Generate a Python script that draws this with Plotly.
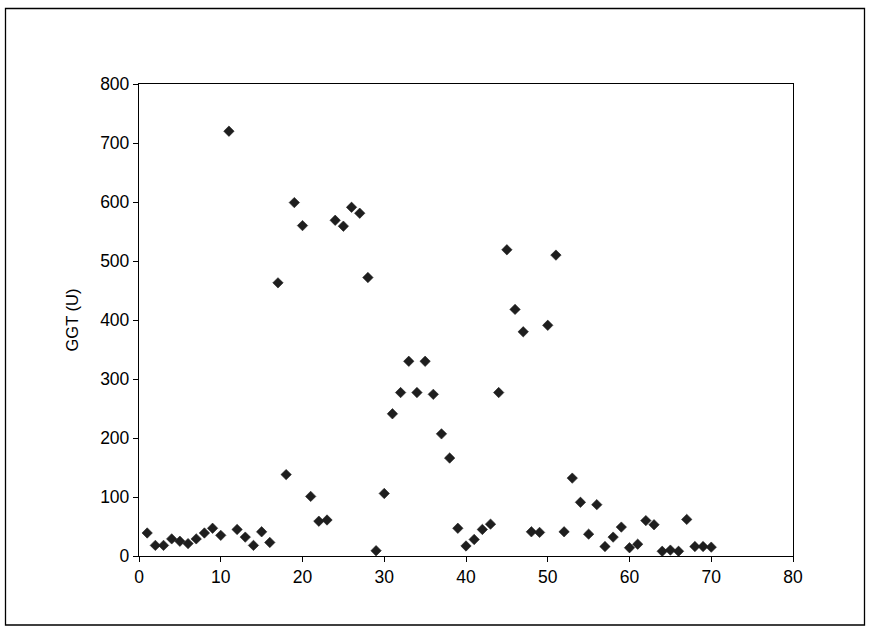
import plotly.graph_objects as go

x_vals = list(range(1, 71))
ggt = [39, 18, 18, 29, 25, 21, 29, 39, 47, 35,
       720, 45, 32, 18, 41, 23, 463, 138, 599, 560,
       101, 59, 61, 569, 559, 591, 581, 472, 9, 106,
       241, 277, 330, 277, 330, 274, 207, 166, 47, 17,
       28, 45, 54, 277, 519, 418, 380, 41, 40, 391,
       510, 41, 132, 91, 37, 87, 16, 32, 49, 14,
       20, 60, 53, 8, 10, 8, 62, 16, 16, 15]

x_ticks = [0, 10, 20, 30, 40, 50, 60, 70, 80]
y_ticks = [0, 100, 200, 300, 400, 500, 600, 700, 800]

fig = go.Figure()
fig.add_trace(go.Scatter(
    x=x_vals, y=ggt, mode="markers",
    marker=dict(symbol="diamond", size=8, color="#1e1e1e",
                line=dict(width=0.6, color="#1e1e1e")),
    cliponaxis=False, showlegend=False,
))

W, H = 872, 633
L, R, T, B = 139, 793, 84, 556
pw, ph = R - L, B - T

def px2x(px):
    return (px - L) / pw

def px2y(py):
    return (B - py) / ph

fig.add_shape(type="rect", xref="paper", yref="paper",
              x0=px2x(5.5), x1=px2x(864.5), y0=px2y(625), y1=px2y(8.5),
              line=dict(color="black", width=1.3), fillcolor="rgba(0,0,0,0)", layer="below")

font_family = "Liberation Sans, Arial, sans-serif"
fig.update_layout(
    width=W, height=H,
    margin=dict(l=L, r=W - R, t=T, b=H - B, autoexpand=False),
    paper_bgcolor="white", plot_bgcolor="white",
    font=dict(family=font_family, size=17, color="black"),
    xaxis=dict(range=[0, 80], tickvals=x_ticks, ticktext=[str(v) for v in x_ticks],
               showgrid=False, zeroline=False, showline=True, linecolor="black",
               linewidth=1.3, mirror=True, ticks="outside", ticklen=5,
               tickcolor="black", tickwidth=1.3, tickfont=dict(size=17.5)),
    yaxis=dict(range=[0, 800], tickvals=y_ticks, ticktext=[str(v) for v in y_ticks],
               showgrid=False, zeroline=False, showline=True, linecolor="black",
               linewidth=1.3, mirror=True, ticks="outside", ticklen=5,
               tickcolor="black", tickwidth=1.3, tickfont=dict(size=17.5),
               title=dict(text="GGT (U)", font=dict(size=16.5), standoff=17)),
)

fig.write_html("out.html", config={"displayModeBar": False})
with open("out.html", "r", encoding="utf-8") as f:
    html = f.read()
html = html.replace("<head>", "<head><style>html,body{margin:0;padding:0;overflow:hidden}</style>", 1)
with open("out.html", "w", encoding="utf-8") as f:
    f.write(html)
